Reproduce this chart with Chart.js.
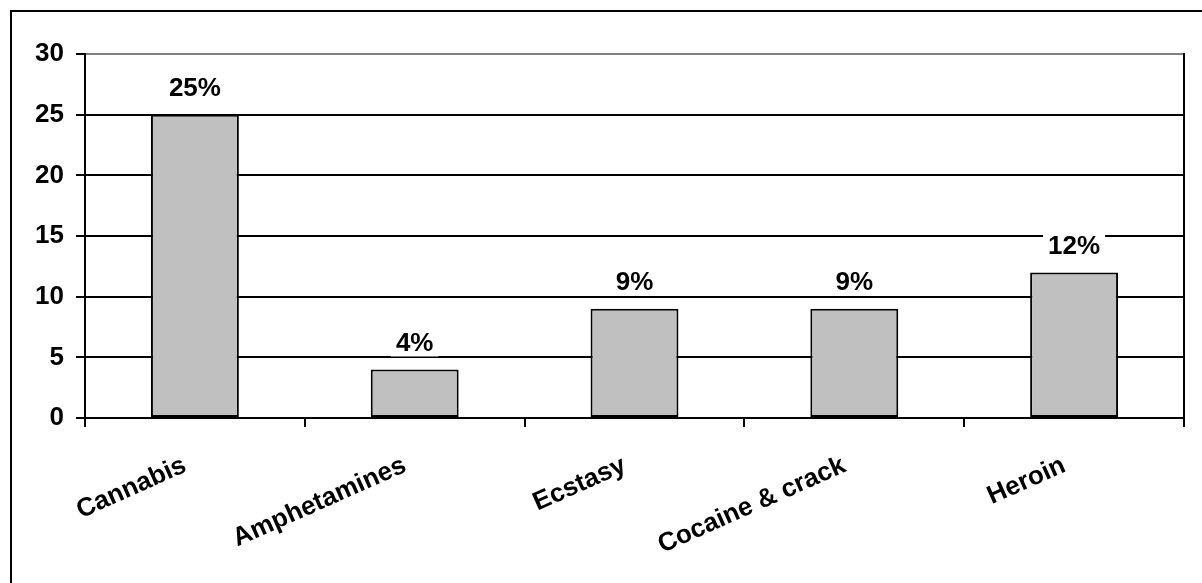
<!DOCTYPE html>
<html>
<head>
<meta charset="utf-8">
<title>Drug use</title>
<script src="https://cdn.jsdelivr.net/npm/chart.js@4.4.1/dist/chart.umd.min.js"></script>
<style>
  html, body { margin: 0; padding: 0; background: #fff; overflow: hidden; }
  #frame { position: absolute; left: 10px; top: 10px; width: 1400px; height: 800px; border: 2px solid #000; }
  #wrap { position: absolute; left: 0; top: 0; width: 1202px; height: 583px; }
</style>
</head>
<body>
<div id="frame"></div>
<div id="wrap"><canvas id="drugChart"></canvas></div>
<script>
const categories = ['Cannabis', 'Amphetamines', 'Ecstasy', 'Cocaine & crack', 'Heroin'];
const usage = [25, 4, 9, 9, 12];
const yTicks = [0, 5, 10, 15, 20, 25, 30];

const FONT = '"Liberation Sans", Arial, sans-serif';

// percentage labels with a white box behind, sitting over the gridlines
const valueLabels = {
  id: 'valueLabels',
  afterDatasetsDraw(chart) {
    const ctx = chart.ctx;
    const meta = chart.getDatasetMeta(0);
    ctx.save();
    ctx.font = 'bold 26px ' + FONT;
    ctx.textAlign = 'center';
    ctx.textBaseline = 'middle';
    meta.data.forEach((bar, i) => {
      const text = usage[i] + '%';
      const w = ctx.measureText(text).width + 10;
      const y = bar.y - 27;
      ctx.fillStyle = '#fff';
      ctx.fillRect(bar.x - w / 2, y - 14, w, 28);
      ctx.fillStyle = '#000';
      ctx.fillText(text, bar.x, y + 1);
    });
    ctx.restore();
  }
};

// right side of the plot frame
const rightEdge = {
  id: 'rightEdge',
  beforeDatasetsDraw(chart) {
    const { ctx, chartArea } = chart;
    ctx.save();
    ctx.strokeStyle = '#000';
    ctx.lineWidth = 2;
    ctx.beginPath();
    ctx.moveTo(chartArea.right, chartArea.top - 1);
    ctx.lineTo(chartArea.right, chartArea.bottom);
    ctx.stroke();
    ctx.restore();
  }
};

new Chart(document.getElementById('drugChart').getContext('2d'), {
  type: 'bar',
  data: {
    labels: categories,
    datasets: [{
      data: usage,
      backgroundColor: '#C0C0C0',
      borderColor: '#000',
      borderWidth: 2,
      borderSkipped: false,
      categoryPercentage: 1,
      barPercentage: 0.4
    }]
  },
  options: {
    responsive: true,
    maintainAspectRatio: false,
    animation: false,
    devicePixelRatio: 1,
    layout: { padding: { left: 0, top: 54, right: 18, bottom: 0 } },
    plugins: { legend: { display: false }, tooltip: { enabled: false } },
    scales: {
      x: {
        grid: {
          offset: true,
          drawOnChartArea: false,
          color: '#000',
          lineWidth: 2,
          tickLength: 9
        },
        border: { color: '#000', width: 2 },
        ticks: {
          color: '#000',
          font: { family: FONT, size: 26, weight: 'bold' },
          minRotation: 24,
          maxRotation: 24,
          padding: 23,
          labelOffset: -10,
          autoSkip: false
        },
        afterFit(scale) { scale.height = 165; }
      },
      y: {
        min: 0,
        max: 30,
        afterBuildTicks(scale) { scale.ticks = yTicks.map(v => ({ value: v })); },
        grid: {
          color: ctx => (ctx.tick && ctx.tick.value === 30 ? '#808080' : '#000'),
          tickColor: '#000',
          lineWidth: 2,
          tickLength: 9
        },
        border: { color: '#000', width: 2 },
        ticks: {
          color: '#000',
          font: { family: FONT, size: 26, weight: 'bold' },
          padding: 12
        },
        afterFit(scale) { scale.width = 85; }
      }
    }
  },
  plugins: [valueLabels, rightEdge]
});
</script>
</body>
</html>
